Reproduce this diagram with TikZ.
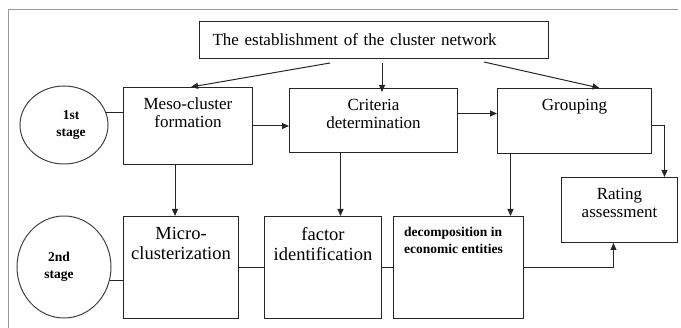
\documentclass[tikz,border=0pt]{standalone}
\usepackage{fontspec}
\setmainfont{Liberation Serif}
\usetikzlibrary{shapes.geometric,arrows.meta,positioning,calc}
\newcommand{\boxfont}{\fontsize{17}{18}\selectfont}
\newcommand{\lowfont}{\fontsize{18.5}{20.5}\selectfont}
\newcommand{\stagefont}{\fontsize{13.5}{16.5}\selectfont\bfseries}
\newcommand{\notefont}{\fontsize{13.5}{17}\selectfont\bfseries}

\begin{document}
\begin{tikzpicture}[x=1pt, y=-1pt,
    box/.style={draw=black!85, line width=1pt, anchor=north west, inner sep=0pt},
    stagecirc/.style={draw=black!75, line width=1pt, ellipse, inner sep=0pt},
    inlbl/.style={font=\boxfont, align=center, inner sep=0pt, anchor=north, label distance=-11pt},
    link/.style={draw=black!85, line width=1pt},
    arr/.style={link, -{Triangle[length=7pt,width=6pt]}}]
    \useasboundingbox (0,0) rectangle (681,328);
    % --- outer frame ---
    \draw[gray!80, line width=1pt] (8,328) -- (8,10) -- (678,10);

    % --- top box ---
    \node[box, minimum width=349pt, minimum height=37pt, inner xsep=13pt, text width=323pt,
          align=left, font=\boxfont] (est) at (199,21) {The establishment of the cluster network};

    % --- 1st stage ---
    \node[stagecirc, minimum width=88pt, minimum height=78pt,
          label={[font=\stagefont, align=center, xshift=7pt]center:1st\\stage}] (st1) at (64,125) {};
    \node[box, minimum width=129pt, minimum height=77pt,
          label={[inlbl]north:Meso-cluster\\formation}] (meso) at (123,87) {};
    \node[box, minimum width=168pt, minimum height=64pt,
          label={[inlbl]north:Criteria\\determination}] (crit) at (289,88) {};
    \node[box, minimum width=154pt, minimum height=65pt,
          label={[inlbl]north:Grouping}] (group) at (497,88) {};
    \node[box, minimum width=116pt, minimum height=65pt,
          label={[inlbl]north:Rating\\assessment}] (rating) at (561,177) {};

    % --- 2nd stage ---
    \node[stagecirc, minimum width=94pt, minimum height=102pt,
          label={[font=\stagefont, align=center, xshift=-5pt]center:2nd\\stage}] (st2) at (64,267) {};
    \node[box, minimum width=115pt, minimum height=102pt,
          label={[inlbl, font=\lowfont]north:Micro-\\clusterization}] (micro) at (123,216) {};
    \node[box, minimum width=117pt, minimum height=102pt,
          label={[inlbl, font=\lowfont]north:factor\\identification}] (factor) at (264,216) {};
    \node[box, minimum width=130pt, minimum height=102pt,
          label={[inlbl, font=\notefont, align=left, xshift=-5pt]north:decomposition in\\economic entities}] (decomp) at (393,216) {};

    % --- connectors ---
    \draw[arr] ([xshift=-44pt,yshift=-4pt]est.south) -- ([xshift=3pt]meso.north);
    \draw[arr] ([xshift=8pt,yshift=-4pt]est.south) -- ([xshift=8pt,yshift=-4pt]est.south |- crit.north);
    \draw[arr] ([xshift=110pt,yshift=-3pt]est.south) -- ([xshift=25pt]group.north);

    \draw[link] (st1.16) -- (st1.16 -| meso.west);
    \draw[arr] (meso.east) -- (meso.east -| crit.west);
    \draw[arr] ([yshift=7pt]crit.east) -- ([yshift=7pt]crit.east -| group.west);
    \draw[arr] ([yshift=-5pt]group.east) -| ([xshift=45pt]rating.north);

    \draw[arr] ([xshift=-13pt]meso.south) -- ([xshift=-13pt]meso.south |- micro.north);
    \draw[arr] ([xshift=-33pt]crit.south) -- ([xshift=-33pt]crit.south |- factor.north);
    \draw[arr] ([xshift=-64pt]group.south) -- ([xshift=-64pt]group.south |- decomp.north);

    \draw[link] (st2.-16) -- (st2.-16 -| micro.west);
    \draw[link] (micro.east) -- (factor.west);
    \draw[link] (factor.east) -- (decomp.west);
    \draw[arr] (decomp.east) -| ([xshift=-6pt]rating.south);
\end{tikzpicture}
\end{document}
